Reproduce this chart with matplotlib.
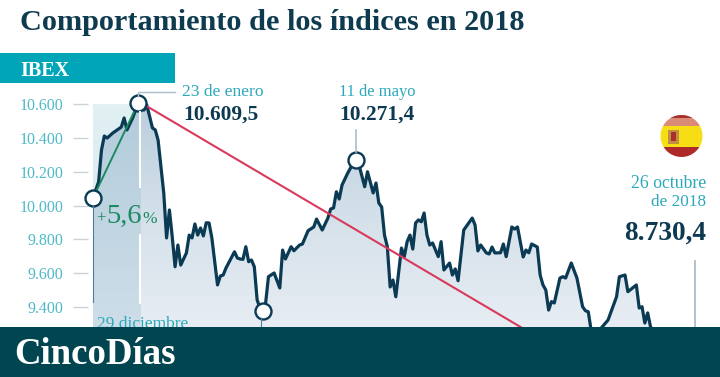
import numpy as np
import matplotlib
matplotlib.use('Agg')
import matplotlib.pyplot as plt
from matplotlib.colors import LinearSegmentedColormap
from matplotlib.patches import Circle, Polygon, Rectangle

# sesiones desde el 29 de diciembre de 2017
sessions = [0, 2, 3, 4, 5, 7, 10, 11, 12, 14, 16, 18, 19, 21, 22, 23, 25, 26, 27, 28,
            29, 30, 31, 33, 34, 35, 36, 37, 38, 39, 40, 41, 42, 44, 45, 46, 47, 50, 51, 52,
            53, 54, 55, 56, 57, 58, 59, 60, 61, 62, 64, 66, 67, 68, 70, 71, 73, 74, 76, 78,
            79, 81, 83, 84, 85, 86, 87, 88, 90, 92, 93, 94, 96, 97, 99, 100, 101, 102, 103, 104,
            105, 106, 107, 109, 110, 111, 112, 113, 114, 115, 116, 117, 118, 119, 120, 122, 123, 124, 126, 127,
            128, 129, 131, 134, 135, 136, 137, 139, 140, 141, 142, 144, 145, 146, 148, 149, 150, 152, 153, 154,
            155, 157, 158, 159, 160, 161, 162, 163, 165, 166, 167, 169, 171, 173, 174, 175, 176, 177, 179, 182,
            185, 186, 188, 189, 192, 193, 194, 195, 196, 197, 205, 213]
ibex = [10045, 10142, 10330, 10413, 10401, 10431, 10466, 10520, 10449, 10520, 10609.5, 10567, 10597, 10461, 10449, 10389, 10075, 9808, 9974, 9815,
        9637, 9766, 9647, 9719, 9825, 9808, 9891, 9825, 9867, 9820, 9898, 9897, 9808, 9529, 9582, 9588, 9630, 9726, 9689, 9683,
        9681, 9756, 9667, 9677, 9637, 9440, 9392, 9376, 9422, 9578, 9600, 9511, 9736, 9683, 9756, 9732, 9766, 9772, 9851, 9873,
        9920, 9855, 9926, 9980, 9986, 10082, 10039, 10122, 10193, 10253, 10271.4, 10241, 10112, 10201, 10075, 10134, 10015, 9992, 9825, 9756,
        9517, 9558, 9459, 9748, 9697, 9786, 9825, 9742, 9897, 9915, 9904, 9956, 9825, 9766, 9778, 9697, 9786, 9618, 9659, 9588,
        9624, 9554, 9855, 9926, 9885, 9731, 9766, 9719, 9713, 9754, 9719, 9720, 9772, 9697, 9873, 9861, 9873, 9695, 9736, 9720,
        9772, 9754, 9588, 9529, 9499, 9380, 9430, 9422, 9570, 9578, 9570, 9659, 9570, 9400, 9376, 9370, 9262, 9226, 9262, 9321,
        9459, 9578, 9588, 9489, 9529, 9392, 9400, 9303, 9363, 9281, 9050, 8730.4]

marker_sessions = [0, 16, 60, 93]
marker_values = [10045, 10609.5, 9376, 10271.4]

rise_sessions = [0, 16]
rise_values = [10045, 10609.5]
fall_sessions = [19, 213]
fall_values = [10590, 8665]

yticks = [9400, 9600, 9800, 10000, 10200, 10400, 10600]
ytick_labels = ['9.400', '9.600', '9.800', '10.000', '10.200', '10.400', '10.600']

title = 'Comportamiento de los índices en 2018'

W, H = 720, 377
SERIF = 'Liberation Serif'
TEAL = '#2ba9ba'
DARK = '#0d3a52'

plt.rcParams['font.family'] = SERIF

fig = plt.figure(figsize=(W / 100, H / 100), dpi=100, facecolor='white')

# eje principal: 1 sesion = 2.83 px, 200 puntos = 33.7 px
ax = fig.add_axes([88 / W, 0, (W - 88) / W, 1])
ax.patch.set_alpha(0)
x0 = (88 - 93) / 2.83
x1 = (W - 93) / 2.83
y1 = 10600 + 104.5 * 5.935
y0 = 10600 - (H - 104.5) * 5.935
for s in ax.spines.values():
    s.set_visible(False)
ax.set_xticks([])
ax.set_yticks(yticks)
ax.set_yticklabels(ytick_labels, fontsize=11.5, color='#4fb9c8')
ax.tick_params(axis='y', length=10.8, width=1, color='#c9d3d8', pad=7)

band_end = 16.8

# banda clara enero
pale = LinearSegmentedColormap.from_list('pale', ['#e1f0f3', '#d3e3ea'])
ax.imshow(np.linspace(0, 1, 64).reshape(-1, 1), cmap=pale, aspect='auto', zorder=1,
          extent=(0, band_end, 9200, 10600), origin='upper')

# area bajo la curva con degradado
poly = Polygon(np.column_stack([[sessions[0]] + sessions + [sessions[-1]],
                                [y0] + ibex + [y0]]), closed=True,
               facecolor='none', edgecolor='none', transform=ax.transData)
ax.add_patch(poly)
area = LinearSegmentedColormap.from_list('area', ['#b8ccdc', '#d5e1ea', '#e9eef4'])
im = ax.imshow(np.linspace(0, 1, 128).reshape(-1, 1), cmap=area, aspect='auto', zorder=2,
               extent=(0, 213, 9200, 10650), origin='upper')
im.set_clip_path(poly)
dark = LinearSegmentedColormap.from_list('dark', ['#b2cbdb', '#cfdfe9'])
im2 = ax.imshow(np.linspace(0, 1, 128).reshape(-1, 1), cmap=dark, aspect='auto', zorder=3,
                extent=(0, band_end, 9200, 10600), origin='upper')
im2.set_clip_path(poly)

ax.plot(sessions, ibex, color='#0a3a54', lw=2.3, solid_joinstyle='round', zorder=5)
ax.plot(rise_sessions, rise_values, color='#1c8a60', lw=1.4, zorder=6)
ax.plot(fall_sessions, fall_values, color='#d93a5c', lw=1.5, zorder=6)
ax.plot(marker_sessions, marker_values, 'o', ms=11.5, mfc='white', mec='#0a3a54', mew=1.7,
        clip_on=False, zorder=7)

ax.set_xlim(x0, x1)
ax.set_ylim(y0, y1)

# capa en pixeles para rotulos y cajas
ov = fig.add_axes([0, 0, 1, 1], zorder=5)
ov.set_xlim(0, W)
ov.set_ylim(H, 0)
ov.axis('off')

ov.add_patch(Rectangle((0, 53), 175, 30, color='#00a5b7', lw=0))
ov.add_patch(Rectangle((0, 327), W, 50, color='#004550', lw=0, zorder=4))

# lineas de llamada
ov.plot([138, 138, 175], [96, 92, 92], color='#a9bccb', lw=1)
ov.plot([356, 356], [130, 152], color='#a9bccb', lw=1.2)
ov.plot([695, 695], [261, 327], color='#a9bccb', lw=1.3)
ov.plot([93, 93], [206, 302], color='#4f7d9b', lw=0.8)
ov.plot([260.5, 260.5], [318, 327], color='#4f7d9b', lw=0.8)
ov.plot([140, 140], [112, 187], color='white', lw=1.5)
ov.plot([140, 140], [235, 303], color='white', lw=1.5)

ov.text(20, 30, title, fontsize=21.8, fontweight='bold', color='#0e3b4f')
ov.text(20, 76, 'IBEX', fontsize=14.5, fontweight='bold', color='white')
ov.text(14, 364, 'CincoDías', fontsize=26.6, fontweight='bold', color='white', zorder=5)

ov.text(182, 96, '23 de enero', fontsize=12.6, color=TEAL)
ov.text(183, 120, '10.609,5', fontsize=15.4, fontweight='bold', color=DARK)
ov.text(339, 96, '11 de mayo', fontsize=11.9, color=TEAL)
ov.text(339, 120, '10.271,4', fontsize=15.4, fontweight='bold', color=DARK)
ov.text(706, 188, '26 octubre', fontsize=12.8, color=TEAL, ha='right')
ov.text(706, 206, 'de 2018', fontsize=12.4, color=TEAL, ha='right')
ov.text(706, 240, '8.730,4', fontsize=19.7, fontweight='bold', color=DARK, ha='right')
ov.text(97, 328, '29 diciembre', fontsize=12.5, color=TEAL, zorder=3)

ov.text(96, 223, '+', fontsize=12, color='#1c8a60')
ov.text(106, 223, '5,6', fontsize=20.5, color='#1c8a60')
ov.text(142, 223, '%', fontsize=12.5, color='#1c8a60')

# bandera
clip = Circle((681.5, 136), 21, transform=ov.transData)
for y, h, c in [(115, 11, '#d98b78'), (115, 3, '#a8322f'), (126, 21, '#f7dd14'), (147, 10, '#ae2a2a')]:
    r = Rectangle((660, y), 43, h, color=c, lw=0)
    ov.add_patch(r)
    r.set_clip_path(clip)
ov.add_patch(Rectangle((668, 130), 11, 14, color='#c09040', lw=0))
ov.add_patch(Rectangle((671, 132), 5, 9, color='#a82f2b', lw=0))

fig.savefig('out.png', dpi=100)
